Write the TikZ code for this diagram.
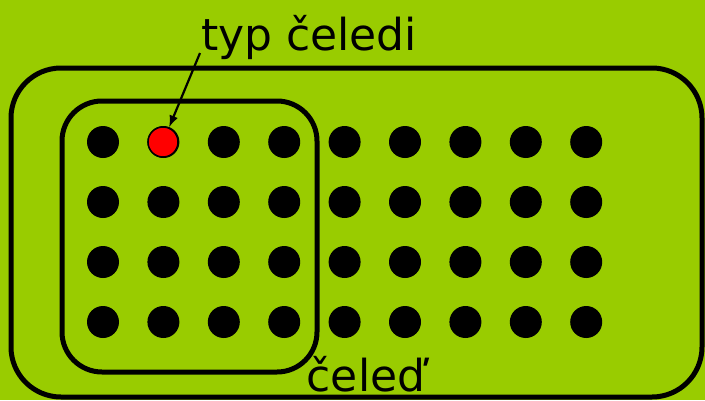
\documentclass[tikz,border=0pt]{standalone}
\usepackage{fontspec}
\setmainfont{DejaVu Sans}
\usetikzlibrary{arrows.meta}
\definecolor{lime}{RGB}{153,204,0}
\tikzset{
    dot/.style = {circle, fill=black, inner sep=0pt, minimum size=32pt},
    reddot/.style = {circle, fill=red, draw=black, line width=1.5pt, inner sep=0pt, minimum size=30pt},
    label/.style = {font=\fontsize{44}{44}\selectfont, inner sep=0pt, anchor=base}
}
\begin{document}
\begin{tikzpicture}[x=1pt, y=-1pt]
        \fill[lime] (0,0) rectangle (705,400);
        \useasboundingbox (0,0) rectangle (705,400);
        \draw[line width=5pt, rounded corners=50pt] (11,68) rectangle (702,397);
        \draw[line width=5pt, rounded corners=40pt] (62,101) rectangle (317,372);
        \foreach \i in {0,...,8}
            \foreach \j in {0,...,3}
                \node[dot] (d\i\j) at (103+60.4*\i, 142+60*\j) {};
        \node[reddot] (typ) at (163,142) {};
        \node[label] (nazev) at (309,50) {typ čeledi};
        \node[label] (celed) at (366,391) {čeleď};
        \coordinate (start) at (200,53);
        \draw[line width=2.2pt, -{Latex[length=12pt,width=9pt]}] (start) -- (typ);
    \end{tikzpicture}
\end{document}
